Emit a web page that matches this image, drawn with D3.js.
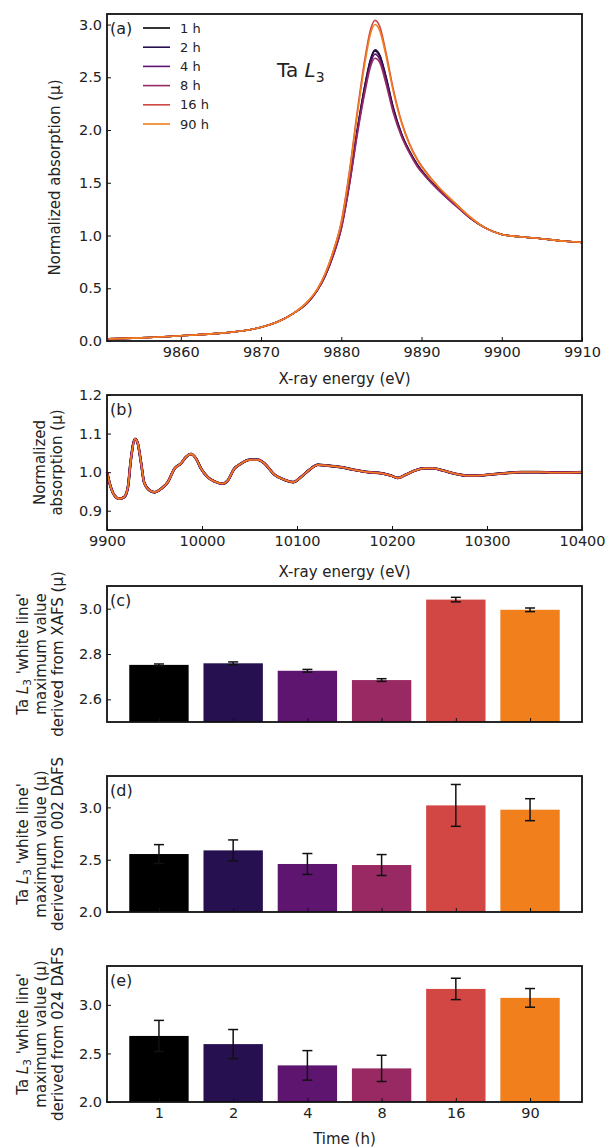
<!DOCTYPE html>
<html lang="en">
<head>
<meta charset="UTF-8">
<script src="https://cdn.jsdelivr.net/npm/d3@7"></script>
<title>Ta L3 white line</title>
<style>
  body { margin: 0; background: #fff; }
  text { font-family: "DejaVu Sans", sans-serif; fill: #222; }
  .axis path { display: none; }
  .axis line { stroke: #111; stroke-width: 1; }
  .axis text { font-size: 14.5px; fill: #222; }
</style>
</head>
<body>
<script>
// ---- data ----
var hours = ["1", "2", "4", "8", "16", "90"]
var seriesNames = ["1 h", "2 h", "4 h", "8 h", "16 h", "90 h"]
var colors = ["#000000", "#26104f", "#5e1570", "#992963", "#d24643", "#f07f1c"]

// panel (a) XANES
var xanesE = [9851, 9855, 9860, 9865, 9868, 9870, 9872, 9874, 9876, 9877, 9878, 9879, 9880, 9881, 9882, 9883,
  9883.6, 9884.2, 9884.8, 9885.5, 9886.5, 9887.5, 9888.5, 9889.5, 9890.5, 9892, 9894, 9896, 9898, 9900, 9902, 9905, 9908, 9910]
var mu1h = [0.02, 0.03, 0.05, 0.075, 0.10, 0.13, 0.18, 0.26, 0.38, 0.48, 0.62, 0.82, 1.08, 1.50, 2.00, 2.44,
  2.65, 2.75, 2.70, 2.52, 2.20, 1.96, 1.80, 1.67, 1.57, 1.45, 1.31, 1.17, 1.07, 1.01, 0.99, 0.97, 0.945, 0.935]
var mu2h = [0.02, 0.03, 0.05, 0.075, 0.10, 0.13, 0.18, 0.26, 0.38, 0.48, 0.62, 0.82, 1.08, 1.50, 2.01, 2.45,
  2.66, 2.76, 2.71, 2.53, 2.21, 1.97, 1.80, 1.67, 1.57, 1.45, 1.31, 1.17, 1.07, 1.01, 0.99, 0.97, 0.945, 0.935]
var mu4h = [0.02, 0.03, 0.05, 0.075, 0.10, 0.13, 0.18, 0.26, 0.38, 0.48, 0.62, 0.81, 1.07, 1.48, 1.98, 2.41,
  2.62, 2.72, 2.67, 2.49, 2.18, 1.95, 1.79, 1.66, 1.56, 1.44, 1.30, 1.17, 1.07, 1.01, 0.99, 0.97, 0.945, 0.935]
var mu8h = [0.02, 0.03, 0.05, 0.075, 0.10, 0.13, 0.18, 0.26, 0.38, 0.48, 0.62, 0.81, 1.06, 1.47, 1.96, 2.38,
  2.59, 2.68, 2.64, 2.46, 2.16, 1.94, 1.78, 1.65, 1.56, 1.44, 1.30, 1.17, 1.07, 1.01, 0.99, 0.97, 0.945, 0.935]
var mu16h = [0.02, 0.03, 0.05, 0.075, 0.10, 0.13, 0.18, 0.26, 0.39, 0.49, 0.64, 0.85, 1.13, 1.60, 2.18, 2.70,
  2.94, 3.04, 2.98, 2.76, 2.38, 2.08, 1.87, 1.72, 1.61, 1.47, 1.32, 1.18, 1.07, 1.01, 0.99, 0.97, 0.945, 0.935]
var mu90h = [0.02, 0.03, 0.05, 0.075, 0.10, 0.13, 0.18, 0.26, 0.39, 0.49, 0.64, 0.85, 1.12, 1.58, 2.15, 2.66,
  2.90, 3.00, 2.94, 2.73, 2.36, 2.07, 1.86, 1.71, 1.60, 1.47, 1.32, 1.18, 1.07, 1.01, 0.99, 0.97, 0.945, 0.935]
var xanesMu = [mu1h, mu2h, mu4h, mu8h, mu16h, mu90h]

// panel (b) EXAFS region (all six curves overlap)
var exafsE = [9900, 9904, 9907.7, 9913, 9918, 9922, 9925, 9929.5, 9932, 9936, 9939, 9944.6, 9950, 9957, 9964, 9971,
  9978, 9983, 9988.5, 9994, 9999, 10006, 10013, 10022, 10027, 10034, 10041, 10050, 10059, 10066, 10076, 10087,
  10096, 10104, 10113, 10122, 10132, 10146, 10160, 10175, 10189, 10199, 10206, 10215, 10224, 10234, 10243, 10254,
  10266, 10280, 10290, 10304, 10318, 10336, 10354, 10371, 10385, 10400]
var exafsMu = [1.0, 0.961, 0.94, 0.931, 0.935, 0.961, 1.03, 1.086, 1.078, 1.022, 0.974, 0.953, 0.948, 0.957, 0.974, 1.009,
  1.023, 1.039, 1.047, 1.034, 1.009, 0.987, 0.976, 0.970, 0.978, 1.009, 1.022, 1.032, 1.032, 1.022, 0.994, 0.980,
  0.974, 0.987, 1.006, 1.019, 1.017, 1.013, 1.006, 1.0, 0.997, 0.991, 0.985, 0.994, 1.004, 1.010, 1.010, 1.004,
  0.996, 0.991, 0.991, 0.994, 0.997, 1.0, 1.0, 0.999, 0.999, 1.0]

// panels (c)-(e) white line maxima
var xafsMax = [2.752, 2.759, 2.726, 2.685, 3.040, 2.995]
var xafsErr = [0.004, 0.006, 0.006, 0.006, 0.010, 0.008]
var dafs002Max = [2.554, 2.589, 2.459, 2.449, 3.019, 2.978]
var dafs002Err = [0.09, 0.10, 0.10, 0.10, 0.20, 0.105]
var dafs024Max = [2.68, 2.596, 2.377, 2.346, 3.164, 3.072]
var dafs024Err = [0.16, 0.15, 0.152, 0.135, 0.11, 0.096]

// ---- layout ----
var width = 609, height = 1148
var left = 107, right = 582

var svg = d3.select("body").append("svg")
  .attr("width", width)
  .attr("height", height)

svg.append("rect").attr("width", width).attr("height", height).attr("fill", "#fff")

function frame(top, bottom) {
  svg.append("rect")
    .attr("x", left).attr("y", top)
    .attr("width", right - left).attr("height", bottom - top)
    .attr("fill", "none").attr("stroke", "#111").attr("stroke-width", 1.8)
}

function panelTag(txt, top) {
  svg.append("text").attr("x", 110).attr("y", top + 20)
    .style("font-size", "16px").text(txt)
}

function yLabel(lines, xs, cy) {
  lines.forEach(function (t, i) {
    var el = svg.append("text")
      .attr("transform", "translate(" + xs[i] + "," + cy + ") rotate(-90)")
      .attr("text-anchor", "middle")
      .attr("dominant-baseline", "central")
      .style("font-size", "15px")
    if (Array.isArray(t)) {
      t.forEach(function (p) {
        var ts = el.append("tspan").text(p.s)
        if (p.i) ts.style("font-style", "italic")
        if (p.sub) ts.attr("dy", 4).style("font-size", "10.5px")
        if (p.up) ts.attr("dy", -4)
      })
    } else {
      el.text(t)
    }
  })
}

function xLabel(txt, y) {
  svg.append("text").attr("x", (left + right) / 2).attr("y", y)
    .attr("text-anchor", "middle").attr("dominant-baseline", "central")
    .style("font-size", "15px").text(txt)
}

// ---- panel (a) ----
var aTop = 14, aBot = 341
var xA = d3.scaleLinear().domain([9850.8, 9910]).range([left, right])
var yA = d3.scaleLinear().domain([0, 3.1]).range([aBot, aTop])

svg.append("g").attr("class", "axis")
  .attr("transform", "translate(0," + aBot + ")")
  .call(d3.axisBottom(xA).tickValues([9860, 9870, 9880, 9890, 9900, 9910])
    .tickFormat(d3.format("d")).tickSizeInner(-4).tickSizeOuter(0).tickPadding(6))
svg.append("g").attr("class", "axis")
  .attr("transform", "translate(" + left + ",0)")
  .call(d3.axisLeft(yA).tickValues([0, 0.5, 1, 1.5, 2, 2.5, 3])
    .tickFormat(d3.format(".1f")).tickSizeInner(-4).tickSizeOuter(0).tickPadding(5))

var lineA = d3.line()
  .x(function (d) { return xA(d[0]) })
  .y(function (d) { return yA(d[1]) })
  .curve(d3.curveMonotoneX)

xanesMu.forEach(function (mu, k) {
  svg.append("path")
    .datum(xanesE.map(function (e, i) { return [e, mu[i]] }))
    .attr("d", lineA)
    .attr("fill", "none").attr("stroke", colors[k]).attr("stroke-width", 1.6)
})
frame(aTop, aBot)
panelTag("(a)", aTop)

// legend
seriesNames.forEach(function (n, k) {
  var y = 28 + k * 19.2
  svg.append("line").attr("x1", 143).attr("x2", 170).attr("y1", y).attr("y2", y)
    .attr("stroke", colors[k]).attr("stroke-width", 1.6)
  svg.append("text").attr("x", 180).attr("y", y).attr("dominant-baseline", "central")
    .style("font-size", "13px").text(n)
})

var taLabel = svg.append("text").attr("x", 277).attr("y", 77).style("font-size", "20px")
taLabel.append("tspan").text("Ta ")
taLabel.append("tspan").text("L").style("font-style", "italic")
taLabel.append("tspan").text("3").attr("dy", 5).style("font-size", "14px")

yLabel(["Normalized absorption (\u03bc)"], [55], (aTop + aBot) / 2)
xLabel("X-ray energy (eV)", 379)

// ---- panel (b) ----
var bTop = 395, bBot = 530
var xB = d3.scaleLinear().domain([9900, 10400]).range([left, right])
var yB = d3.scaleLinear().domain([0.85, 1.2]).range([bBot, bTop])

svg.append("g").attr("class", "axis")
  .attr("transform", "translate(0," + bBot + ")")
  .call(d3.axisBottom(xB).tickValues([9900, 10000, 10100, 10200, 10300, 10400])
    .tickFormat(d3.format("d")).tickSizeInner(-4).tickSizeOuter(0).tickPadding(6))
svg.append("g").attr("class", "axis")
  .attr("transform", "translate(" + left + ",0)")
  .call(d3.axisLeft(yB).tickValues([0.9, 1.0, 1.1, 1.2])
    .tickFormat(d3.format(".1f")).tickSizeInner(-4).tickSizeOuter(0).tickPadding(5))

var lineB = d3.line()
  .x(function (d) { return xB(d[0]) })
  .y(function (d) { return yB(d[1]) })
  .curve(d3.curveMonotoneX)
var exafsPts = exafsE.map(function (e, i) { return [e, exafsMu[i]] })
colors.forEach(function (c, k) {
  svg.append("path").datum(exafsPts).attr("d", lineB)
    .attr("fill", "none").attr("stroke", c)
    .attr("stroke-width", k < 4 ? 2.6 - k * 0.2 : 1.8 - (k - 4) * 0.5)
})
frame(bTop, bBot)
panelTag("(b)", bTop)
yLabel(["Normalized", "absorption (\u03bc)"], [40, 57], (bTop + bBot) / 2)
xLabel("X-ray energy (eV)", 572)

// ---- bar panels ----
var xBar = d3.scaleLinear().domain([-0.7, 5.7]).range([left, right])
var barW = xBar(0.4) - xBar(-0.4)

function barPanel(top, bottom, yDomain, yTicks, vals, errs, tag, labelLines, showX) {
  var y = d3.scaleLinear().domain(yDomain).range([bottom, top])
  var g = svg.append("g")
  g.selectAll("rect.bar").data(vals).enter().append("rect")
    .attr("class", "bar")
    .attr("x", function (d, i) { return xBar(i) - barW / 2 })
    .attr("y", function (d) { return y(d) })
    .attr("width", barW)
    .attr("height", function (d) { return bottom - y(d) })
    .attr("fill", function (d, i) { return colors[i] })

  var eb = g.selectAll("g.err").data(vals).enter().append("g").attr("class", "err")
  eb.append("line")
    .attr("x1", function (d, i) { return xBar(i) }).attr("x2", function (d, i) { return xBar(i) })
    .attr("y1", function (d, i) { return y(d - errs[i]) })
    .attr("y2", function (d, i) { return y(d + errs[i]) })
    .attr("stroke", "#111").attr("stroke-width", 1.5)
  ;[-1, 1].forEach(function (s) {
    eb.append("line")
      .attr("x1", function (d, i) { return xBar(i) - 5 }).attr("x2", function (d, i) { return xBar(i) + 5 })
      .attr("y1", function (d, i) { return y(d + s * errs[i]) })
      .attr("y2", function (d, i) { return y(d + s * errs[i]) })
      .attr("stroke", "#111").attr("stroke-width", 1.5)
  })

  svg.append("g").attr("class", "axis")
    .attr("transform", "translate(0," + bottom + ")")
    .call(d3.axisBottom(xBar).tickValues(d3.range(hours.length))
      .tickFormat(function (i) { return showX ? hours[i] : "" })
      .tickSizeInner(-4).tickSizeOuter(0).tickPadding(6))
  svg.append("g").attr("class", "axis")
    .attr("transform", "translate(" + left + ",0)")
    .call(d3.axisLeft(y).tickValues(yTicks)
      .tickFormat(d3.format(".1f")).tickSizeInner(-4).tickSizeOuter(0).tickPadding(5))
  frame(top, bottom)
  panelTag(tag, top)
  yLabel(labelLines, [23, 41, 58], (top + bottom) / 2)
}

var whiteLine = [{ s: "Ta " }, { s: "L", i: true }, { s: "3", sub: true }, { s: " 'white line'", up: true }]

barPanel(586, 722, [2.5, 3.1], [2.6, 2.8, 3.0], xafsMax, xafsErr, "(c)",
  [whiteLine, "maximum value", "derived from XAFS (\u03bc)"], false)
barPanel(776, 912, [2.0, 3.3], [2.0, 2.5, 3.0], dafs002Max, dafs002Err, "(d)",
  [whiteLine, "maximum value (\u03bc)", "derived from 002 DAFS"], false)
barPanel(966, 1102, [2.0, 3.4], [2.0, 2.5, 3.0], dafs024Max, dafs024Err, "(e)",
  [whiteLine, "maximum value (\u03bc)", "derived from 024 DAFS"], true)

xLabel("Time (h)", 1139)
</script>
</body>
</html>
